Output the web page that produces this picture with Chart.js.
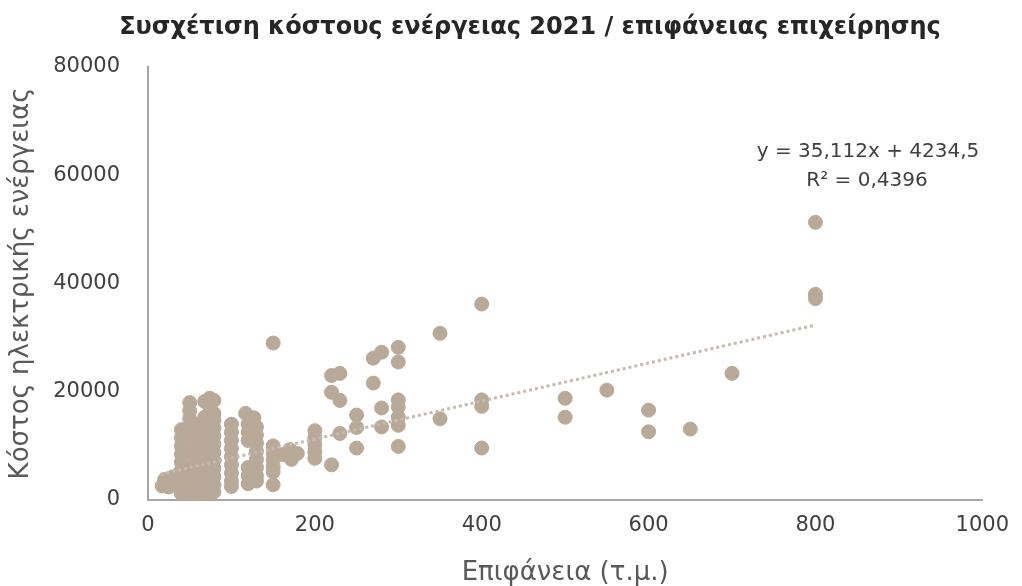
<!DOCTYPE html>
<html>
<head>
<meta charset="utf-8">
<script src="https://cdn.jsdelivr.net/npm/chart.js@4.4.1/dist/chart.umd.min.js"></script>
<style>
html, body { margin: 0; padding: 0; background: #fff; }
</style>
</head>
<body>
<canvas id="chart" width="1022" height="586"></canvas>
<script>
// επιφάνεια (τ.μ.) και κόστος ρεύματος 2021, ένα σημείο ανά επιχείρηση
const areaValues = [
    17, 20, 20, 25, 30, 30,
    40, 40, 40, 40, 40, 40, 40, 40, 40,
    46, 46, 46, 46,
    50, 50, 50, 50, 50, 50, 50, 50,
    56, 56, 56, 56, 56, 56, 56, 56, 56, 56,
    62, 62, 62, 62, 62, 62, 62, 62, 62,
    68, 68, 68, 68, 68, 68, 68, 68, 68, 68, 68, 68,
    74, 74, 74, 74, 74, 74, 74, 74, 74, 74, 74, 74,
    79, 79, 79, 79, 79, 79, 79, 79, 79, 79, 79, 79,
    100, 100, 100, 100, 100, 100, 100, 100, 100,
    117, 120, 120, 120, 120, 120, 120,
    127, 130, 130, 130, 130, 130, 130, 130, 130,
    150, 150, 150, 150, 150, 150, 150,
    162, 170, 172, 179,
    200, 200, 200, 200, 200,
    220, 220, 220,
    230, 230, 230,
    250, 250, 250,
    270, 270,
    280, 280, 280,
    300, 300, 300, 300, 300, 300, 300,
    350, 350,
    400, 400, 400, 400,
    500, 500,
    550,
    600, 600,
    650,
    700,
    800, 800, 800
];
const costValues = [
    2600, 2800, 3800, 2400, 3200, 4300,
    13000, 11500, 10000, 8500, 7000, 5500, 4000, 2500, 1200,
    12000, 9000, 6000, 3000,
    18000, 16500, 15000, 13500, 5500, 4000, 2500, 1000,
    14000, 12500, 11000, 9500, 8000, 6500, 5000, 3500, 2000, 800,
    13700, 12200, 10700, 9200, 7700, 6200, 4700, 3200, 1700,
    18200, 15300, 13800, 12300, 10800, 9300, 7800, 6300, 4800, 3300, 1800, 600,
    18800, 17300, 14300, 12800, 11300, 9800, 8300, 6800, 5300, 3800, 2300, 1000,
    18400, 16000, 14800, 13300, 11800, 10300, 8800, 7300, 5800, 4300, 2800, 1500,
    14000, 12500, 11000, 9500, 8000, 6500, 5000, 3500, 2500,
    16000, 14000, 12500, 11000, 6000, 4500, 3000,
    15200, 13500, 12000, 10500, 9000, 7500, 6000, 4500, 3500,
    29000, 10000, 8700, 7400, 6100, 5200, 2800,
    8400, 9300, 7500, 8600,
    12800, 11500, 10200, 8900, 7700,
    23000, 19900, 6500,
    23400, 18400, 12300,
    15700, 13400, 9600,
    26200, 21600,
    27300, 17000, 13500,
    28200, 25500, 18500, 17200, 15300, 13800, 9900,
    30800, 15000,
    36200, 18500, 17300, 9600,
    18800, 15300,
    20300,
    16600, 12600,
    13100,
    23400,
    51300, 38000, 37200
];

// γραμμή τάσης όπως φαίνεται στο γράφημα (άκρα)
const trendX = [15, 800];
const trendY = [4760, 32320];
const equationText = 'y = 35,112x + 4234,5';
const rSquaredText = 'R² = 0,4396';

const xTicks = [0, 200, 400, 600, 800, 1000];
const yTicks = [0, 20000, 40000, 60000, 80000];

const titleText = 'Συσχέτιση κόστους ενέργειας 2021 / επιφάνειας επιχείρησης';
const xTitle = 'Επιφάνεια (τ.μ.)';
const yTitle = 'Κόστος ηλεκτρικής ενέργειας';

const pointColor = 'rgb(184,169,153)';
const trendColor = 'rgb(196,186,176)';

const scatterPoints = areaValues.map((x, i) => ({ x: x, y: costValues[i] }));
const trendPoints = trendX.map((x, i) => ({ x: x, y: trendY[i] }));

// τίτλος και εξίσωση τάσης, σχεδιασμένα με το χέρι
const chartTexts = {
    id: 'chartTexts',
    afterDraw(chart) {
        const ctx = chart.ctx;
        ctx.save();
        ctx.textAlign = 'center';
        ctx.textBaseline = 'middle';
        ctx.font = 'bold 24px "DejaVu Sans"';
        ctx.fillStyle = '#262626';
        ctx.fillText(titleText, 530, 28);
        ctx.font = '20px "DejaVu Sans"';
        ctx.fillStyle = '#404040';
        ctx.fillText(equationText, 868, 152);
        ctx.fillText(rSquaredText, 867, 181);
        ctx.restore();
    }
};

new Chart(document.getElementById('chart'), {
    type: 'scatter',
    data: {
        datasets: [{
            label: 'Κόστος',
            data: scatterPoints,
            backgroundColor: pointColor,
            borderColor: pointColor,
            borderWidth: 1,
            pointRadius: 7,
            order: 1
        }, {
            type: 'line',
            label: 'Τάση',
            data: trendPoints,
            borderColor: trendColor,
            borderWidth: 3,
            borderDash: [3, 3],
            pointRadius: 0,
            fill: false,
            order: 0
        }]
    },
    options: {
        responsive: false,
        animation: false,
        layout: { padding: { left: 0, right: 27, top: 67, bottom: 0 } },
        plugins: {
            legend: { display: false },
            tooltip: { enabled: false },
            title: { display: false }
        },
        scales: {
            x: {
                type: 'linear',
                min: 0,
                max: 1000,
                afterFit(scale) { scale.height = 86; },
                afterBuildTicks(scale) { scale.ticks = xTicks.map(v => ({ value: v })); },
                grid: { display: false, drawTicks: false },
                border: { color: '#a6a6a6', width: 2 },
                ticks: {
                    color: '#404040',
                    padding: 13,
                    font: { family: '"DejaVu Sans"', size: 21 },
                    callback: v => String(v)
                },
                title: {
                    display: true,
                    text: xTitle,
                    color: '#595959',
                    font: { family: '"DejaVu Sans"', size: 26 },
                    padding: { top: 0, bottom: -3 }
                }
            },
            y: {
                type: 'linear',
                min: 0,
                max: 80000,
                afterFit(scale) { scale.width = 148; },
                afterBuildTicks(scale) { scale.ticks = yTicks.map(v => ({ value: v })); },
                grid: { display: false, drawTicks: false },
                border: { color: '#a6a6a6', width: 2 },
                ticks: {
                    color: '#404040',
                    padding: 28,
                    font: { family: '"DejaVu Sans"', size: 21 },
                    callback: v => String(v)
                },
                title: {
                    display: true,
                    text: yTitle,
                    color: '#595959',
                    font: { family: '"DejaVu Sans"', size: 26 },
                    padding: { top: 6, bottom: 0 }
                }
            }
        }
    },
    plugins: [chartTexts]
});
</script>
</body>
</html>
